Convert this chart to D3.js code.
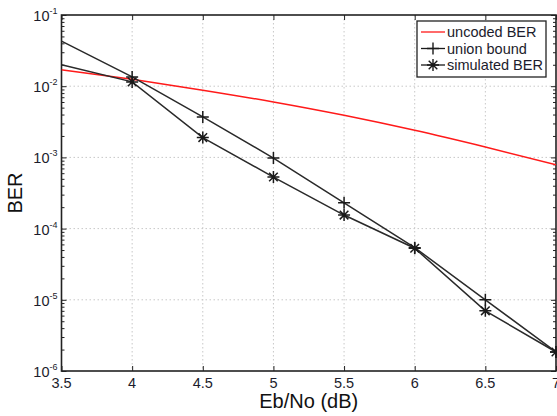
<!DOCTYPE html>
<html>
<head>
<meta charset="utf-8">
<script src="https://cdn.jsdelivr.net/npm/d3@7"></script>
<style>
  html, body { margin: 0; padding: 0; background: #fff; }
  svg { display: block; font-family: 'Liberation Sans', Arial, sans-serif; }
</style>
</head>
<body>
<div id="chart"></div>
<script>
// ── Data ──────────────────────────────────────────────────
const ebno      = [3.5, 4, 4.5, 5, 5.5, 6, 6.5, 7];
const uncoded   = [1.7e-2, 1.25e-2, 8.8e-3, 6.0e-3, 3.9e-3, 2.4e-3, 1.4e-3, 7.9e-4];
const unionBnd  = [4.3e-2, 1.35e-2, 3.7e-3, 9.8e-4, 2.3e-4, 5.4e-5, 1.0e-5, 1.85e-6];
const simulated = [2.0e-2, 1.15e-2, 1.9e-3, 5.3e-4, 1.55e-4, 5.3e-5, 7.0e-6, 1.85e-6];
const xTicks    = [3.5, 4, 4.5, 5, 5.5, 6, 6.5, 7];
const yExps     = [-1, -2, -3, -4, -5, -6];
const legendLabels = ['uncoded BER', 'union bound', 'simulated BER'];

(function () {
const W = 557, H = 416;
const pL = 61.5, pR = 556, pT = 15, pB = 371;

const svg = d3.select('#chart').append('svg')
  .attr('width', W).attr('height', H);

const x = d3.scaleLinear().domain([3.5, 7]).range([pL, pR]);
const y = d3.scaleLog().domain([1e-6, 1e-1]).range([pB, pT]);

// ── Grid (dotted) ─────────────────────────────────────────
const grid = svg.append('g').attr('stroke', '#c8c8c8').attr('stroke-width', 1)
  .attr('stroke-dasharray', '1.5,2.5');
grid.selectAll('.gx').data(xTicks.slice(1, -1)).join('line')
  .attr('x1', d => x(d)).attr('x2', d => x(d))
  .attr('y1', pT).attr('y2', pB);
grid.selectAll('.gy').data(yExps.slice(1, -1)).join('line')
  .attr('x1', pL).attr('x2', pR)
  .attr('y1', d => y(Math.pow(10, d))).attr('y2', d => y(Math.pow(10, d)));

// ── Axes (ticks pointing inward) ──────────────────────────
const minor = y.ticks().filter(v => {
  const e = Math.log10(v);
  return Math.abs(e - Math.round(e)) > 1e-6;
});
const majorY = yExps.map(e => Math.pow(10, e));

const axisStyle = sel => sel
  .call(g => g.select('.domain').remove())
  .call(g => g.selectAll('.tick line').attr('stroke', '#222').attr('stroke-width', 1));

svg.append('g').attr('transform', `translate(0,${pB})`)
  .call(d3.axisBottom(x).tickValues(xTicks).tickSize(-5).tickFormat('')).call(axisStyle);
svg.append('g').attr('transform', `translate(0,${pT})`)
  .call(d3.axisTop(x).tickValues(xTicks).tickSize(-5).tickFormat('')).call(axisStyle);
svg.append('g').attr('transform', `translate(${pL},0)`)
  .call(d3.axisLeft(y).tickValues(majorY).tickSize(-5).tickFormat('')).call(axisStyle);
svg.append('g').attr('transform', `translate(${pL},0)`)
  .call(d3.axisLeft(y).tickValues(minor).tickSize(-3).tickFormat('')).call(axisStyle);
svg.append('g').attr('transform', `translate(${pR},0)`)
  .call(d3.axisRight(y).tickValues(majorY).tickSize(-5).tickFormat('')).call(axisStyle);
svg.append('g').attr('transform', `translate(${pR},0)`)
  .call(d3.axisRight(y).tickValues(minor).tickSize(-3).tickFormat('')).call(axisStyle);

// frame
svg.append('rect')
  .attr('x', pL).attr('y', pT)
  .attr('width', pR - pL).attr('height', pB - pT)
  .attr('fill', 'none').attr('stroke', '#222').attr('stroke-width', 1.6);

// ── Tick labels ───────────────────────────────────────────
svg.append('g').selectAll('text').data(xTicks).join('text')
  .attr('x', d => x(d)).attr('y', pB + 17)
  .attr('text-anchor', 'middle').attr('font-size', 14.5).attr('fill', '#1c1c2c')
  .text(d => d);

const yl = svg.append('g').selectAll('text').data(yExps).join('text')
  .attr('x', pL - 4).attr('y', d => y(Math.pow(10, d)) + 6)
  .attr('text-anchor', 'end').attr('font-size', 14.5).attr('fill', '#1c1c2c');
yl.append('tspan').text('10');
yl.append('tspan').attr('dy', -7).attr('font-size', 9).text(d => d);

// ── Axis titles ───────────────────────────────────────────
svg.append('text')
  .attr('x', (pL + pR) / 2).attr('y', 408)
  .attr('text-anchor', 'middle').attr('font-size', 20).attr('fill', '#111')
  .text('Eb/No (dB)');
svg.append('text')
  .attr('transform', `translate(22,${(pT + pB) / 2}) rotate(-90)`)
  .attr('text-anchor', 'middle').attr('font-size', 20).attr('fill', '#111')
  .text('BER');

// ── Lines ─────────────────────────────────────────────────
svg.append('clipPath').attr('id', 'plot-clip').append('rect')
  .attr('x', pL).attr('y', pT).attr('width', pR - pL).attr('height', pB - pT);

const line = d3.line().x(d => x(d[0])).y(d => y(d[1]));
const lines = svg.append('g').attr('clip-path', 'url(#plot-clip)').attr('fill', 'none');

lines.append('path')
  .attr('d', line.curve(d3.curveMonotoneX)(ebno.map((e, i) => [e, uncoded[i]])))
  .attr('stroke', '#ff1a1a').attr('stroke-width', 1.5);
line.curve(d3.curveLinear);
lines.append('path')
  .attr('d', line(ebno.map((e, i) => [e, unionBnd[i]])))
  .attr('stroke', '#2a2a2a').attr('stroke-width', 1.5);
lines.append('path')
  .attr('d', line(ebno.map((e, i) => [e, simulated[i]])))
  .attr('stroke', '#2a2a2a').attr('stroke-width', 1.5);

// ── Markers ───────────────────────────────────────────────
const plusPath = 'M-6,0H6M0,-6V6';
const starPath = 'M-6,0H6M0,-6V6M-4.3,-4.3L4.3,4.3M-4.3,4.3L4.3,-4.3';

svg.append('g').selectAll('path')
  .data(ebno.map((e, i) => [e, unionBnd[i]]).filter(d => d[0] > 3.5)).join('path')
  .attr('transform', d => `translate(${x(d[0])},${y(d[1])})`)
  .attr('d', plusPath).attr('stroke', '#1a1a1a').attr('stroke-width', 1.5).attr('fill', 'none');
svg.append('g').selectAll('path')
  .data(ebno.map((e, i) => [e, simulated[i]]).filter(d => d[0] > 3.5)).join('path')
  .attr('transform', d => `translate(${x(d[0])},${y(d[1])})`)
  .attr('d', starPath).attr('stroke', '#1a1a1a').attr('stroke-width', 1.5).attr('fill', 'none');

// ── Legend ────────────────────────────────────────────────
const lg = svg.append('g').attr('transform', 'translate(417,21)');
lg.append('rect').attr('width', 129).attr('height', 56)
  .attr('fill', '#fff').attr('stroke', '#222').attr('stroke-width', 1.3);
const rows = lg.selectAll('g.row').data(legendLabels).join('g')
  .attr('transform', (d, i) => `translate(0,${11 + i * 16.5})`);
rows.append('line').attr('x1', 4).attr('x2', 28).attr('y1', 0).attr('y2', 0)
  .attr('stroke', (d, i) => i === 0 ? '#ff1a1a' : '#1a1a1a').attr('stroke-width', 1.3);
rows.filter((d, i) => i > 0).append('path')
  .attr('transform', 'translate(16,0)')
  .attr('d', d => d === 'union bound' ? plusPath : starPath)
  .attr('stroke', '#1a1a1a').attr('stroke-width', 1.4).attr('fill', 'none');
rows.append('text').attr('x', 30).attr('y', 5)
  .attr('font-size', 14.5).attr('fill', '#1c1c2c').text(d => d);
})();
</script>
</body>
</html>
